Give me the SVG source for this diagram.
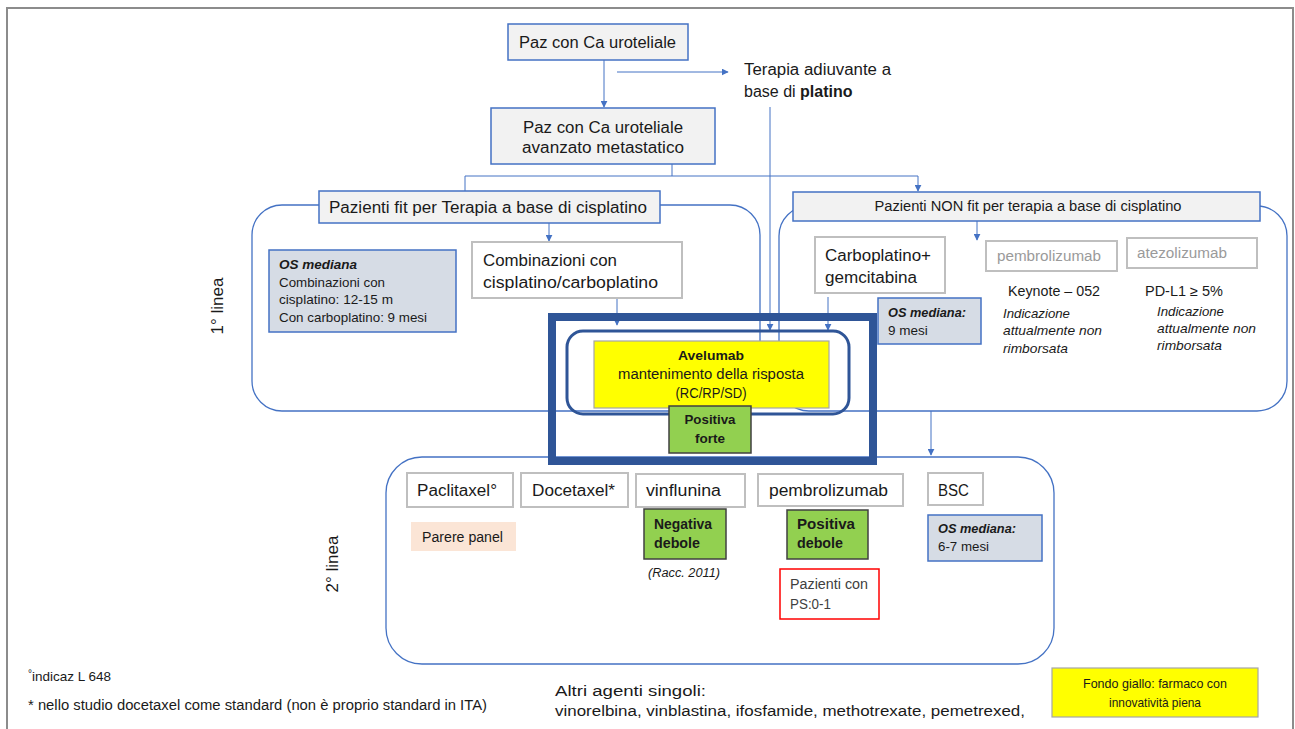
<svg xmlns="http://www.w3.org/2000/svg" width="1295" height="729" viewBox="0 0 1295 729">
  <defs>
    <marker id="arr" viewBox="0 0 10 10" refX="9" refY="5" markerWidth="7" markerHeight="7" markerUnits="userSpaceOnUse" orient="auto">
      <path d="M0,0 L10,5 L0,10 z" fill="#4472c4"/>
    </marker>
    <style>
      text { font-family: "Liberation Sans", Arial, sans-serif; fill: #1a1a1a; }
      .t16 { font-size: 16px; }
      .t14 { font-size: 14px; }
      .t13 { font-size: 13.5px; }
      .b { font-weight: bold; }
      .bi { font-weight: bold; font-style: italic; }
      .it { font-style: italic; }
      .mid { text-anchor: middle; }
      .gray { fill: #9a9a9a; }
      .boxBlue { fill: #f2f2f2; stroke: #4472c4; stroke-width: 1.5; }
      .boxGray { fill: #ffffff; stroke: #bfbfbf; stroke-width: 2; }
      .boxOS { fill: #d6dce5; stroke: #4472c4; stroke-width: 1.5; }
      .boxGreen { fill: #92d050; stroke: #404040; stroke-width: 1.5; }
      .boxYellow { fill: #ffff00; stroke: #a6a6a6; stroke-width: 1.2; }
      .frame { fill: none; stroke: #4472c4; stroke-width: 1.3; }
      .conn { fill: none; stroke: #4472c4; stroke-width: 1; }
    </style>
  </defs>

  <rect width="1295" height="729" fill="#ffffff"/>
  <!-- outer page border -->
  <path d="M7,735 L7,8 L1293,8 L1293,735" fill="none" stroke="#8c8c8c" stroke-width="2"/>

  <!-- line containers -->
  <g id="container-fit">
    <rect class="frame" x="252" y="205" width="508" height="206" rx="30"/>
  </g>
  <g id="container-nonfit">
    <rect class="frame" x="779" y="206" width="508" height="205" rx="30"/>
  </g>
  <g id="container-second-line">
    <rect class="frame" x="386" y="457" width="668" height="207" rx="36"/>
  </g>

  <!-- connectors -->
  <g id="connectors">
    <line class="conn" x1="604" y1="60" x2="604" y2="107" marker-end="url(#arr)"/>
    <line class="conn" x1="617" y1="72" x2="728" y2="72" marker-end="url(#arr)"/>
    <polyline class="conn" points="672,164 672,176"/>
    <polyline class="conn" points="465,191 465,176 918,176 918,191" marker-end="url(#arr)"/>
    <line class="conn" x1="770" y1="107" x2="770" y2="330" marker-end="url(#arr)"/>
    <line class="conn" x1="549" y1="223" x2="549" y2="241" marker-end="url(#arr)"/>
    <line class="conn" x1="617" y1="298" x2="617" y2="325" marker-end="url(#arr)"/>
    <line class="conn" x1="977" y1="221" x2="977" y2="240" marker-end="url(#arr)"/>
    <line class="conn" x1="828" y1="297" x2="828" y2="330" marker-end="url(#arr)"/>
    <line class="conn" x1="931" y1="411" x2="931" y2="455" marker-end="url(#arr)"/>
  </g>

  <g id="node-paz">
    <rect class="boxBlue" x="508" y="24" width="180" height="36"/>
    <text class="t16" x="519" y="48" textLength="157" lengthAdjust="spacingAndGlyphs">Paz con Ca uroteliale</text>
  </g>

  <g id="node-adiuvante">
    <text class="t16" x="744" y="75" textLength="147" lengthAdjust="spacingAndGlyphs">Terapia adiuvante a</text>
    <text class="t16" x="744" y="97">base di <tspan class="b">platino</tspan></text>
  </g>

  <g id="node-metastatico">
    <rect class="boxBlue" x="491" y="108" width="224" height="56"/>
    <text class="t16 mid" x="603" y="133" textLength="160" lengthAdjust="spacingAndGlyphs">Paz con Ca uroteliale</text>
    <text class="t16 mid" x="603" y="153" textLength="162" lengthAdjust="spacingAndGlyphs">avanzato metastatico</text>
  </g>

  <g id="node-fit">
    <rect class="boxBlue" x="319" y="191" width="341" height="32"/>
    <text class="t16" x="329" y="213" textLength="318" lengthAdjust="spacingAndGlyphs">Pazienti fit per Terapia a base di cisplatino</text>
  </g>

  <g id="node-os-fit">
    <rect class="boxOS" x="269" y="250" width="187" height="82"/>
    <text class="t13 bi" x="279" y="269">OS mediana</text>
    <text class="t13" x="279" y="287" textLength="106" lengthAdjust="spacingAndGlyphs">Combinazioni con</text>
    <text class="t13" x="279" y="304" textLength="114" lengthAdjust="spacingAndGlyphs">cisplatino: 12-15 m</text>
    <text class="t13" x="279" y="322" textLength="148" lengthAdjust="spacingAndGlyphs">Con carboplatino: 9 mesi</text>
  </g>

  <g id="node-combinazioni">
    <rect class="boxGray" x="472" y="242" width="210" height="56"/>
    <text class="t16" x="483" y="266" textLength="134" lengthAdjust="spacingAndGlyphs">Combinazioni con</text>
    <text class="t16" x="483" y="288" textLength="175" lengthAdjust="spacingAndGlyphs">cisplatino/carboplatino</text>
  </g>

  <g id="node-nonfit">
    <rect class="boxBlue" x="793" y="192" width="467" height="29"/>
    <text class="t14 mid" x="1028" y="211" textLength="307" lengthAdjust="spacingAndGlyphs">Pazienti NON fit per terapia a base di cisplatino</text>
  </g>

  <g id="node-carboplatino">
    <rect class="boxGray" x="815" y="237" width="130" height="56"/>
    <text class="t16" x="825" y="261" textLength="106" lengthAdjust="spacingAndGlyphs">Carboplatino+</text>
    <text class="t16" x="825" y="283" textLength="92" lengthAdjust="spacingAndGlyphs">gemcitabina</text>
  </g>

  <g id="node-pembro-1">
    <rect class="boxGray" x="986" y="241" width="131" height="30"/>
    <text class="t14 gray" x="997" y="261" textLength="104" lengthAdjust="spacingAndGlyphs">pembrolizumab</text>
    <text class="t14" x="1008" y="296" textLength="92" lengthAdjust="spacingAndGlyphs">Keynote – 052</text>
    <text class="t13 it" x="1003" y="318" textLength="67" lengthAdjust="spacingAndGlyphs">Indicazione</text>
    <text class="t13 it" x="1003" y="335" textLength="99" lengthAdjust="spacingAndGlyphs">attualmente non</text>
    <text class="t13 it" x="1003" y="353" textLength="65" lengthAdjust="spacingAndGlyphs">rimborsata</text>
  </g>

  <g id="node-atezo">
    <rect class="boxGray" x="1127" y="238" width="130" height="30"/>
    <text class="t14 gray" x="1137" y="258" textLength="90" lengthAdjust="spacingAndGlyphs">atezolizumab</text>
    <text class="t14" x="1145" y="296" textLength="78" lengthAdjust="spacingAndGlyphs">PD-L1 ≥ 5%</text>
    <text class="t13 it" x="1157" y="316" textLength="67" lengthAdjust="spacingAndGlyphs">Indicazione</text>
    <text class="t13 it" x="1157" y="333" textLength="99" lengthAdjust="spacingAndGlyphs">attualmente non</text>
    <text class="t13 it" x="1157" y="350" textLength="65" lengthAdjust="spacingAndGlyphs">rimborsata</text>
  </g>

  <g id="node-os-nonfit">
    <rect class="boxOS" x="878" y="298" width="103" height="46"/>
    <text class="t13 bi" x="888" y="317" textLength="78" lengthAdjust="spacingAndGlyphs">OS mediana:</text>
    <text class="t13" x="888" y="335">9 mesi</text>
  </g>

  <!-- avelumab maintenance block -->
  <g id="node-avelumab">
    <rect x="567" y="331" width="282" height="83" rx="16" fill="none" stroke="#2f5597" stroke-width="3"/>
    <rect class="boxYellow" x="594" y="341" width="235" height="67"/>
    <text class="t13 b mid" x="711" y="360" textLength="66" lengthAdjust="spacingAndGlyphs">Avelumab</text>
    <text class="t14 mid" x="711" y="379" textLength="186" lengthAdjust="spacingAndGlyphs">mantenimento della risposta</text>
    <text class="t14 mid" x="711" y="398" textLength="71" lengthAdjust="spacingAndGlyphs">(RC/RP/SD)</text>
  </g>

  <g id="node-positiva-forte">
    <rect class="boxGreen" x="669" y="406" width="82" height="47"/>
    <text class="t13 b mid" x="710" y="424" textLength="51" lengthAdjust="spacingAndGlyphs">Positiva</text>
    <text class="t13 b mid" x="710" y="443">forte</text>
  </g>

  <g id="highlight-frame">
    <rect x="552" y="317" width="321" height="144" fill="none" stroke="#2f5597" stroke-width="8"/>
  </g>

  <g id="label-1-linea">
    <text class="mid" font-size="17" transform="translate(223,306) rotate(-90)">1° linea</text>
  </g>
  <g id="label-2-linea">
    <text class="mid" font-size="17" transform="translate(338,564) rotate(-90)">2° linea</text>
  </g>

  <!-- second line options -->
  <g id="node-paclitaxel">
    <rect class="boxGray" x="407" y="473" width="106" height="34"/>
    <text class="t16" x="417" y="496" textLength="80" lengthAdjust="spacingAndGlyphs">Paclitaxel°</text>
  </g>
  <g id="node-parere">
    <rect x="411" y="522" width="105" height="29" fill="#fbe5d6"/>
    <text class="t14" x="422" y="542" textLength="81" lengthAdjust="spacingAndGlyphs">Parere panel</text>
  </g>
  <g id="node-docetaxel">
    <rect class="boxGray" x="521" y="473" width="107" height="34"/>
    <text class="t16" x="532" y="496" textLength="83" lengthAdjust="spacingAndGlyphs">Docetaxel*</text>
  </g>
  <g id="node-vinflunina">
    <rect class="boxGray" x="636" y="474" width="109" height="33"/>
    <text class="t16" x="646" y="496" textLength="75" lengthAdjust="spacingAndGlyphs">vinflunina</text>
  </g>
  <g id="node-negativa-debole">
    <rect class="boxGreen" x="644" y="509" width="82" height="50"/>
    <text class="t14 b" x="654" y="529" textLength="58" lengthAdjust="spacingAndGlyphs">Negativa</text>
    <text class="t14 b" x="654" y="548" textLength="46" lengthAdjust="spacingAndGlyphs">debole</text>
    <text class="it" font-size="12" x="648" y="577" textLength="72" lengthAdjust="spacingAndGlyphs">(Racc. 2011)</text>
  </g>
  <g id="node-pembro-2">
    <rect class="boxGray" x="758" y="474" width="145" height="32"/>
    <text class="t16" x="769" y="496" textLength="119" lengthAdjust="spacingAndGlyphs">pembrolizumab</text>
  </g>
  <g id="node-positiva-debole">
    <rect class="boxGreen" x="787" y="510" width="81" height="49"/>
    <text class="t14 b" x="797" y="529" textLength="58" lengthAdjust="spacingAndGlyphs">Positiva</text>
    <text class="t14 b" x="797" y="548" textLength="46" lengthAdjust="spacingAndGlyphs">debole</text>
  </g>
  <g id="node-ps">
    <rect x="780" y="569" width="99" height="50" fill="#ffffff" stroke="#ff0000" stroke-width="1.5"/>
    <text class="t14" x="790" y="589" textLength="78" lengthAdjust="spacingAndGlyphs" style="fill:#404040">Pazienti con</text>
    <text class="t14" x="790" y="609" textLength="41" lengthAdjust="spacingAndGlyphs" style="fill:#404040">PS:0-1</text>
  </g>
  <g id="node-bsc">
    <rect class="boxGray" x="928" y="473" width="55" height="32"/>
    <text class="t16" x="938" y="496" textLength="31" lengthAdjust="spacingAndGlyphs">BSC</text>
  </g>
  <g id="node-os-second">
    <rect class="boxOS" x="928" y="515" width="114" height="46"/>
    <text class="t13 bi" x="938" y="533" textLength="78" lengthAdjust="spacingAndGlyphs">OS mediana:</text>
    <text class="t13" x="938" y="551" textLength="51" lengthAdjust="spacingAndGlyphs">6-7 mesi</text>
  </g>

  <!-- footnotes -->
  <g id="notes">
    <text font-size="13.5" x="28" y="681"><tspan font-size="10" dy="-4" style="fill:#1a1a1a">°</tspan><tspan dy="4">indicaz L 648</tspan></text>
    <text font-size="14" x="28" y="710" textLength="459" lengthAdjust="spacingAndGlyphs">* nello studio docetaxel come standard (non è proprio standard in ITA)</text>
    <text font-size="15.5" x="555" y="696" textLength="151" lengthAdjust="spacingAndGlyphs">Altri agenti singoli:</text>
    <text font-size="15.5" x="555" y="716" textLength="470" lengthAdjust="spacingAndGlyphs">vinorelbina, vinblastina, ifosfamide, methotrexate, pemetrexed,</text>
  </g>

  <g id="legend-yellow">
    <rect class="boxYellow" x="1052" y="668" width="206" height="49"/>
    <text class="mid" font-size="13.5" x="1155" y="688" textLength="144" lengthAdjust="spacingAndGlyphs">Fondo giallo: farmaco con</text>
    <text class="mid" font-size="13.5" x="1155" y="707" textLength="92" lengthAdjust="spacingAndGlyphs">innovatività piena</text>
  </g>
</svg>
